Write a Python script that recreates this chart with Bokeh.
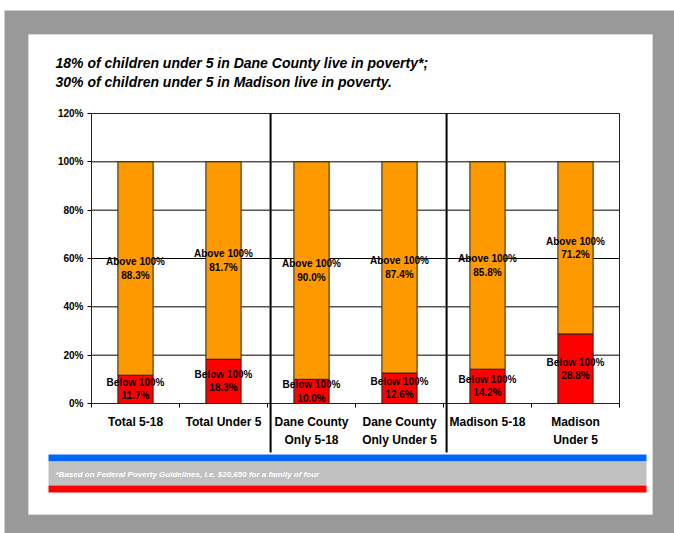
from bokeh.plotting import figure
from bokeh.models import BoxAnnotation, Label, FixedTicker, PrintfTickFormatter, Range1d, ColumnDataSource
from bokeh.core.properties import value
from bokeh.embed import file_html
from bokeh.resources import INLINE

# ---- data ----
categories = ["Total 5-18", "Total Under 5", "Dane County\nOnly 5-18",
              "Dane County\nOnly Under 5", "Madison 5-18", "Madison\nUnder 5"]
below = [11.7, 18.3, 10.0, 12.6, 14.2, 28.8]
above = [88.3, 81.7, 90.0, 87.4, 85.8, 71.2]
y_ticks = [0, 20, 40, 60, 80, 100, 120]
title_lines = ["18% of children under 5 in Dane County live in poverty*;",
               "30% of children under 5 in Madison live in poverty."]
footnote = "*Based on Federal Poverty Guidelines, i.e. $20,650 for a family of four"
separators = [2, 4]

FONTNAME = "Liberation Sans"
FONT = value(FONTNAME)
ORANGE = "#FF9900"
RED = "#FF0000"
GREY = "#999999"

n = len(categories)
centers = [i + 0.5 for i in range(n)]
edges = list(range(n + 1))
YMAX = 120.0

# reference pixel -> data helpers (chart area: x 91..619, y 113..403)
FL, FR, FT, FB = 91.0, 619.0, 113.0, 403.0
def dx(px):
    return (px - FL) / (FR - FL) * n
def dy(py):
    return (FB - py) / (FB - FT) * YMAX

W, H = 674, 533
p = figure(width=W, height=H,
           x_range=Range1d(dx(0), dx(W)), y_range=Range1d(dy(H), dy(0)),
           output_backend="svg", toolbar_location=None,
           min_border=0, min_border_left=0, min_border_right=0,
           min_border_top=0, min_border_bottom=0,
           border_fill_color="white", background_fill_color="white",
           outline_line_color=None)

# grey frame, white panel, footer bands
p.add_layout(BoxAnnotation(left=dx(4), right=dx(700), top=dy(10), bottom=dy(560),
                           fill_color=GREY, fill_alpha=1.0, line_color=None, level="image"))
p.add_layout(BoxAnnotation(left=dx(28), right=dx(652), top=dy(34), bottom=dy(514),
                           fill_color="white", fill_alpha=1.0, line_color="#d8d8d8",
                           line_alpha=1.0, line_width=1, level="image"))
p.add_layout(BoxAnnotation(left=dx(48), right=dx(646), top=dy(454), bottom=dy(461),
                           fill_color="#0066FF", fill_alpha=1.0, line_color=None, level="image"))
p.add_layout(BoxAnnotation(left=dx(48), right=dx(646), top=dy(461), bottom=dy(485),
                           fill_color="#C0C0C0", fill_alpha=1.0, line_color=None, level="image"))
p.add_layout(BoxAnnotation(left=dx(48), right=dx(646), top=dy(485), bottom=dy(492),
                           fill_color=RED, fill_alpha=1.0, line_color=None, level="image"))

# grid lines (horizontal, across the chart area only)
p.segment(x0=[0] * len(y_ticks), x1=[n] * len(y_ticks), y0=y_ticks, y1=y_ticks,
          line_color="black", line_width=1)

# bars
src = ColumnDataSource(dict(x=centers, below=below, above=above,
                            total=[b + a for b, a in zip(below, above)],
                            below_mid=[b / 2 for b in below],
                            above_mid=[b + a / 2 for b, a in zip(below, above)],
                            below_lbl=["Below 100%%\n%.1f%%" % b for b in below],
                            above_lbl=["Above 100%%\n%.1f%%" % a for a in above]))
p.vbar(x="x", bottom=0, top="below", width=0.4, source=src,
       fill_color=RED, line_color="#222222", line_width=1)
p.vbar(x="x", bottom="below", top="total", width=0.4, source=src,
       fill_color=ORANGE, line_color="#222222", line_width=1)

p.text(x="x", y="below_mid", text="below_lbl", source=src, text_align="center",
       text_baseline="middle", text_font=FONT, text_font_style="bold",
       text_font_size="10px", text_color="black", text_line_height=1.2)
p.text(x="x", y="above_mid", text="above_lbl", source=src, text_align="center",
       text_baseline="middle", text_font=FONT, text_font_style="bold",
       text_font_size="10px", text_color="black", text_line_height=1.2)

# chart outline
p.add_layout(BoxAnnotation(left=0, right=n, top=YMAX, bottom=0, fill_alpha=0,
                           line_color="#222222", line_alpha=1.0, line_width=1,
                           level="annotation"))

# separators
for s in separators:
    xs = s + 0.035
    p.add_layout(BoxAnnotation(left=xs, right=xs, top=YMAX, bottom=dy(452),
                               fill_alpha=0, line_color="black", line_alpha=1.0,
                               line_width=2, level="annotation"))

# title
for i, t in enumerate(title_lines):
    p.add_layout(Label(x=dx(55), y=dy(62 + 19.5 * i), text=t, text_font=FONTNAME,
                       text_font_style="bold italic", text_font_size="14px",
                       text_baseline="middle", text_align="left", text_color="black"))
# footnote
p.add_layout(Label(x=dx(55), y=dy(474), text=footnote, text_font=FONTNAME,
                   text_font_style="bold italic", text_font_size="8px",
                   text_baseline="middle", text_align="left", text_color="white"))

# axes (fixed inside the frame)
p.xgrid.visible = False
p.ygrid.visible = False

p.yaxis.fixed_location = 0
p.yaxis.bounds = (0, YMAX)
p.yaxis.ticker = FixedTicker(ticks=y_ticks)
p.yaxis.formatter = PrintfTickFormatter(format="%d%%")
p.yaxis.major_label_text_font = FONTNAME
p.yaxis.major_label_text_font_style = "bold"
p.yaxis.major_label_text_font_size = "10px"
p.yaxis.major_label_text_color = "black"
p.yaxis.major_tick_out = 4
p.yaxis.major_tick_in = 0
p.yaxis.minor_tick_line_color = None
p.yaxis.axis_line_color = "black"
p.yaxis.major_tick_line_color = "black"
p.yaxis.major_label_standoff = 4

p.xaxis.fixed_location = 0
p.xaxis.bounds = (0, n)
p.xaxis.ticker = FixedTicker(ticks=centers, minor_ticks=edges)
p.xaxis.major_label_overrides = {c: lab for c, lab in zip(centers, categories)}
p.xaxis.major_label_text_font = FONTNAME
p.xaxis.major_label_text_font_style = "bold"
p.xaxis.major_label_text_font_size = "12px"
p.xaxis.major_label_text_color = "black"
p.xaxis.major_label_text_line_height = 1.35
p.xaxis.major_tick_line_color = None
p.xaxis.major_tick_out = 0
p.xaxis.major_tick_in = 0
p.xaxis.minor_tick_line_color = "black"
p.xaxis.minor_tick_out = 4
p.xaxis.minor_tick_in = 0
p.xaxis.axis_line_color = "black"
p.xaxis.major_label_standoff = 7

open("out.html", "w").write(file_html(p, INLINE))
